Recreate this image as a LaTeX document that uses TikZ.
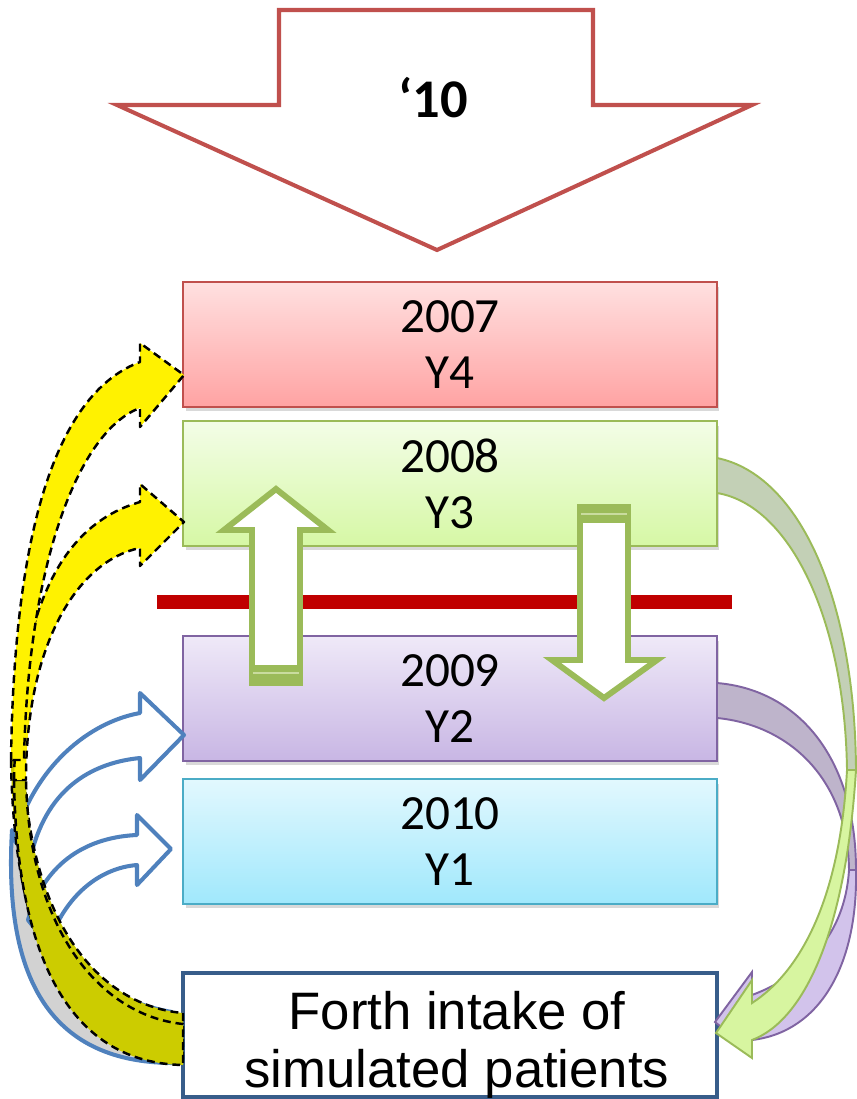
\documentclass[tikz,border=0pt]{standalone}
\usepackage{fontspec}
\setmainfont{Carlito}
\newfontfamily\arialfont{Liberation Sans}
\usetikzlibrary{shadows}

\definecolor{arrowred}{HTML}{C0504D}
\definecolor{olgreen}{HTML}{9BBB59}
\definecolor{olpurple}{HTML}{8064A2}
\definecolor{olcyan}{HTML}{4BACC6}
\definecolor{olblue}{HTML}{4F81BD}
\definecolor{navy}{HTML}{385D8A}
\definecolor{cutred}{HTML}{C00000}
\definecolor{darkyellow}{HTML}{CCCC00}
\definecolor{backgray}{HTML}{D2D2D2}
\definecolor{greengray}{HTML}{C3D0B6}
\definecolor{lightgreen}{HTML}{D7F5A0}
\definecolor{purplegray}{HTML}{BEB4CB}
\definecolor{lightpurple}{HTML}{D2C3EB}
\definecolor{stripe}{HTML}{C9DC9E}

\begin{document}
\begin{tikzpicture}[x=0.02cm,y=-0.02cm,
	yearbox/.style={draw,line width=1.1pt,minimum width=10.68cm,minimum height=2.5cm,inner sep=0pt,align=center,
		font=\fontsize{28}{32}\selectfont,drop shadow={opacity=0.3,shadow xshift=0.5mm,shadow yshift=-0.9mm}},
	blockarrow/.style={draw=olgreen,line width=3.4pt,fill=white},
	yellowband/.style={draw=black,line width=1.4pt,dash pattern=on 4.5pt off 2.8pt,line join=round},
	blueband/.style={draw=olblue,line width=2.3pt,line join=round},
	greenband/.style={draw=olgreen,line width=1.1pt},
	purpleband/.style={draw=olpurple,line width=1.1pt}]
						\useasboundingbox (0,0) rectangle (857,1099);

						\draw[arrowred,line width=2.3pt,fill=white] (279,10) -- (593,10) -- (593,105) -- (752,105) -- (437,250) -- (117,105) -- (279,105) -- cycle;
						\node[font=\bfseries\fontsize{31}{34}\selectfont] (ten) at (433,98) {‘10};

						\node[yearbox,draw=arrowred,top color={rgb,255:red,255;green,224;blue,224},bottom color={rgb,255:red,255;green,163;blue,163}] (y4) at (450,344.5) {2007\\Y4};
						\node[yearbox,draw=olgreen,top color={rgb,255:red,243;green,253;blue,231},bottom color={rgb,255:red,214;green,248;blue,165}] (y3) at (450,483.5) {2008\\Y3};
						\node[yearbox,draw=olpurple,top color={rgb,255:red,239;green,233;blue,248},bottom color={rgb,255:red,200;green,182;blue,228}] (y2) at (450,698.5) {2009\\Y2};
						\node[yearbox,draw=olcyan,top color={rgb,255:red,226;green,248;blue,254},bottom color={rgb,255:red,160;green,232;blue,252}] (y1) at (450,841.5) {2010\\Y1};

						\node[draw=navy,line width=2.3pt,fill=white,minimum width=10.68cm,minimum height=2.48cm] (forth) at (450,1035) {};
						\node[font=\arialfont\fontsize{30}{33}\selectfont,align=center] (forthtext) at (457,1045) {Forth intake of\\simulated patients};

						% left: blue arrows to Y2 and Y1
						\filldraw[blueband,fill=backgray] (12,830) .. controls (3,985) and (55,1062) .. (172,1063) -- (172,1012) .. controls (100,1000) and (45,950) .. (35,860) -- cycle;
						\filldraw[blueband,fill=white] (14,840) .. controls (35,765) and (90,722) .. (140,713) -- (140,693) -- (184,735) -- (140,780) -- (140,758) .. controls (90,763) and (45,790) .. (30,860) -- cycle;
						\filldraw[blueband,fill=white] (28,920) .. controls (45,860) and (90,837) .. (137,835) -- (137,815) -- (171,849) -- (137,885) -- (137,865) .. controls (100,868) and (65,895) .. (48,945) -- cycle;

						% left: yellow arrows to Y4 and Y3
						\filldraw[yellowband,fill=darkyellow] (11,760) .. controls (14,950) and (70,1056) .. (183,1060) -- (183,1013) .. controls (92,1005) and (27,910) .. (24,760) -- cycle;
						\filldraw[yellowband,fill=darkyellow] (14,780) .. controls (17,965) and (74,1063) .. (183,1065) -- (183,1024) .. controls (97,1015) and (29,925) .. (26,780) -- cycle;
						\filldraw[yellowband,fill=yellow] (14,780) .. controls (18,610) and (60,525) .. (140,502) -- (140,484) -- (184,522) -- (140,566) -- (140,548) .. controls (80,560) and (26,640) .. (26,780) -- cycle;
						\filldraw[yellowband,fill=yellow] (11,760) .. controls (14,520) and (60,392) .. (140,362) -- (140,343) -- (184,375) -- (140,427) -- (140,408) .. controls (80,430) and (28,560) .. (24,760) -- cycle;

						% right: purple and green arrows down to the intake
						\filldraw[purpleband,fill=purplegray] (717,683) .. controls (800,690) and (856,760) .. (856,870) -- (849,870) .. controls (848,780) and (790,725) .. (717,718) -- cycle;
						\filldraw[purpleband,fill=lightpurple] (849,870) .. controls (845,935) and (805,975) .. (752,995) -- (752,972) -- (715,1022) -- (752,1052) -- (752,1040) .. controls (820,1032) and (858,965) .. (856,870) -- cycle;
						\filldraw[greenband,fill=greengray] (717,458) .. controls (800,475) and (855,600) .. (856,770) -- (847,770) .. controls (845,620) and (790,505) .. (717,493) -- cycle;
						\filldraw[greenband,fill=lightgreen] (847,770) .. controls (840,900) and (800,972) .. (752,1003) -- (752,980) -- (716,1033) -- (752,1058) -- (752,1040) .. controls (805,1020) and (846,930) .. (856,770) -- cycle;

						\draw[cutred,line width=8.5pt] (157,602) -- (732,602);

						\draw[blockarrow] (276,489) -- (328,530) -- (300,530) -- (300,683) -- (252,683) -- (252,530) -- (224,530) -- cycle;
						\fill[olgreen] (249,665) rectangle (303,686);
						\draw[stripe,line width=1pt] (253,673) -- (299,673);

						\draw[blockarrow] (580,507) -- (628,507) -- (628,660) -- (657,660) -- (604,698) -- (552,660) -- (580,660) -- cycle;
						\fill[olgreen] (577,504) rectangle (631,523);
						\draw[stripe,line width=1pt] (581,514) -- (627,514);
					\end{tikzpicture}
\end{document}
